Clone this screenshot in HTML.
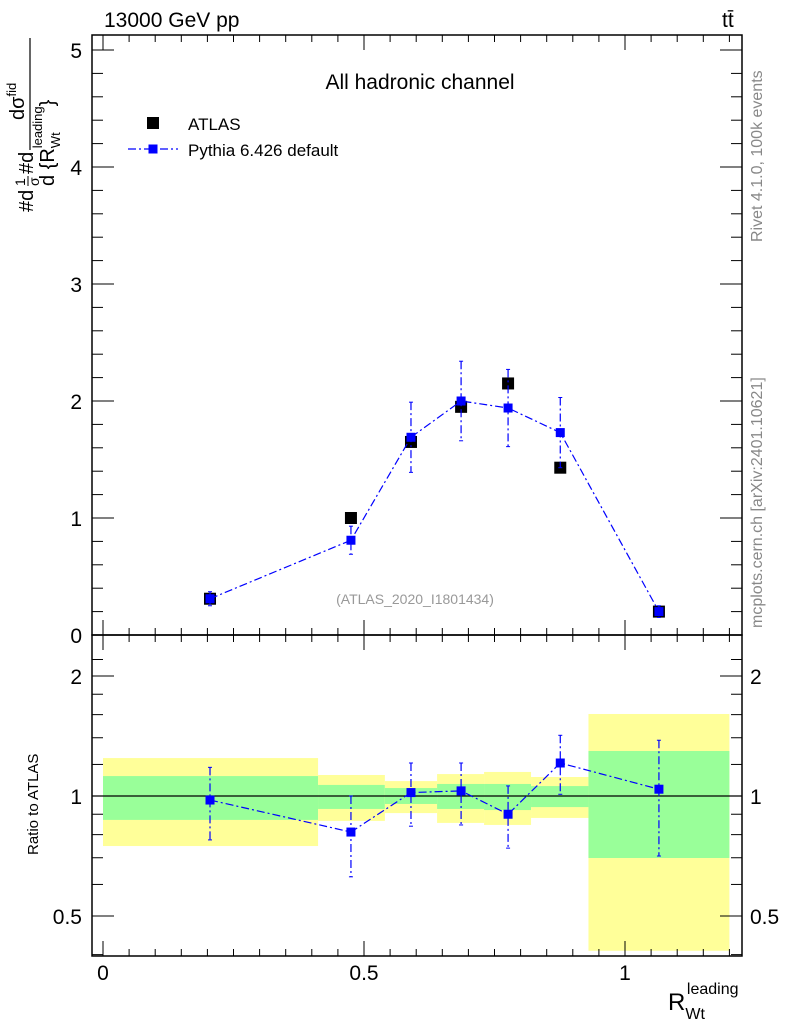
<!DOCTYPE html>
<html><head><meta charset="utf-8"><style>
html,body{margin:0;padding:0;background:#fff;}
svg{display:block;font-family:"Liberation Sans",sans-serif;}
</style></head><body>
<svg id="c" width="786" height="1024" viewBox="0 0 786 1024"></svg>
<script>
const xs=[0.205,0.475,0.59,0.686,0.776,0.876,1.065];
const atlasVals=[0.31,1.0,1.65,1.95,2.15,1.43,0.2];
const pythiaVals=[0.31,0.81,1.69,2.0,1.94,1.73,0.2];
const pythiaErr=[0.06,0.12,0.3,0.34,0.33,0.3,0.05];
const ratioVals=[0.977,0.812,1.02,1.03,0.9,1.21,1.04];
const ratioUp=[1.18,1.0,1.21,1.21,1.06,1.42,1.38];
const ratioDn=[0.776,0.627,0.84,0.846,0.74,1.01,0.707];
const binEdges=[0,0.412,0.54,0.64,0.73,0.82,0.93,1.2];
const yelHi=[1.245,1.129,1.09,1.135,1.149,1.116,1.606];
const yelLo=[0.749,0.866,0.906,0.856,0.846,0.881,0.409];
const grnHi=[1.122,1.066,1.047,1.072,1.072,1.059,1.297];
const grnLo=[0.871,0.928,0.955,0.928,0.922,0.938,0.699];
const mainTicks=[0,1,2,3,4,5];
const ratioTicks=[0.5,1,2];
const xTicks=[0,0.5,1];

const L=92,R=742,T=35,M=635,B=956;
const X=v=>103+522*v;
const Y=v=>635-117*v;
const YR=r=>796-120*Math.log2(r);
const svg=document.getElementById('c');
const NS='http://www.w3.org/2000/svg';
function mk(t,a,p){const e=document.createElementNS(NS,t);for(const k in a)e.setAttribute(k,a[k]);(p||svg).appendChild(e);return e;}

for(let i=0;i<binEdges.length-1;i++){
 const x0=X(binEdges[i]),x1=X(binEdges[i+1]);
 let e=mk('rect',{x:x0,y:YR(yelHi[i]),width:x1-x0,height:YR(yelLo[i])-YR(yelHi[i]),fill:'#ffff99'});
 
 
 e=mk('rect',{x:x0,y:YR(grnHi[i]),width:x1-x0,height:YR(grnLo[i])-YR(grnHi[i]),fill:'#99ff99'});
 
 
}
mk('line',{x1:L,x2:R,y1:YR(1),y2:YR(1),stroke:'#000','stroke-width':1.3});

mk('rect',{x:L,y:T,width:R-L,height:M-T,fill:'none',stroke:'#000','stroke-width':1.5});
mk('rect',{x:L,y:M,width:R-L,height:B-M,fill:'none',stroke:'#000','stroke-width':1.5});

for(let v=0;v<=1.2001;v+=0.05){
 const big=Math.abs(v*2-Math.round(v*2))<1e-6;const len=big?15:7;const x=X(v);
 if(x<L||x>R)continue;
 for(const [y,d] of [[M,-1],[T,1],[B,-1],[M,1]]) mk('line',{x1:x,x2:x,y1:y,y2:y+d*len,stroke:'#000','stroke-width':1});
}
xTicks.forEach(v=>{const t=mk('text',{x:X(v),y:980,'font-size':21,'text-anchor':'middle'});t.textContent=v;
 });
for(let v=0;v<=5.3;v+=0.2){const big=Math.abs(v-Math.round(v))<1e-6;const len=big?22:11;const y=Y(v);if(y<T)continue;
 mk('line',{x1:L,x2:L+len,y1:y,y2:y,stroke:'#000'});mk('line',{x1:R,x2:R-len,y1:y,y2:y,stroke:'#000'});}
mainTicks.forEach(v=>{const t=mk('text',{x:82,y:Y(v)+8,'font-size':21,'text-anchor':'end'});t.textContent=v;
 });
for(const r of [0.4,0.5,0.6,0.7,0.8,0.9,1,1.2,1.4,1.6,1.8,2,2.2]){const y=YR(r);if(y<M||y>B)continue;
 const big=[0.5,1,2].includes(r);const len=big?22:11;
 mk('line',{x1:L,x2:L+len,y1:y,y2:y,stroke:'#000'});mk('line',{x1:R,x2:R-len,y1:y,y2:y,stroke:'#000'});}
ratioTicks.forEach(v=>{let t=mk('text',{x:82,y:YR(v)+8,'font-size':21,'text-anchor':'end'});t.textContent=v;
 
 t=mk('text',{x:750,y:YR(v)+8,'font-size':21});t.textContent=v;
 });

atlasVals.forEach((v,i)=>{const e=mk('rect',{x:X(xs[i])-6,y:Y(v)-6,width:12,height:12,fill:'#000'});
 });
mk('polyline',{points:xs.map((x,i)=>X(x)+','+Y(pythiaVals[i])).join(' '),fill:'none',stroke:'#00f','stroke-width':1.2,'stroke-dasharray':'8,3,2,3'});
pythiaVals.forEach((v,i)=>{const x=X(xs[i]);
 mk('line',{x1:x,x2:x,y1:Y(v+pythiaErr[i]),y2:Y(v-pythiaErr[i]),stroke:'#00f','stroke-width':1.2,'stroke-dasharray':'8,3,2,3'});
 mk('line',{x1:x-2,x2:x+2,y1:Y(v+pythiaErr[i]),y2:Y(v+pythiaErr[i]),stroke:'#00f'});
 mk('line',{x1:x-2,x2:x+2,y1:Y(v-pythiaErr[i]),y2:Y(v-pythiaErr[i]),stroke:'#00f'});
 const e=mk('rect',{x:x-4.5,y:Y(v)-4.5,width:9,height:9,fill:'#00f'});
 });
mk('polyline',{points:xs.map((x,i)=>X(x)+','+YR(ratioVals[i])).join(' '),fill:'none',stroke:'#00f','stroke-width':1.2,'stroke-dasharray':'8,3,2,3'});
ratioVals.forEach((v,i)=>{const x=X(xs[i]);
 mk('line',{x1:x,x2:x,y1:YR(ratioUp[i]),y2:YR(ratioDn[i]),stroke:'#00f','stroke-width':1.2,'stroke-dasharray':'8,3,2,3'});
 mk('line',{x1:x-2,x2:x+2,y1:YR(ratioUp[i]),y2:YR(ratioUp[i]),stroke:'#00f'});
 mk('line',{x1:x-2,x2:x+2,y1:YR(ratioDn[i]),y2:YR(ratioDn[i]),stroke:'#00f'});
 const e=mk('rect',{x:x-4.5,y:YR(v)-4.5,width:9,height:9,fill:'#00f'});
 });
</script>
<svg width="786" height="1024" style="position:absolute;left:0;top:0">
<text x="104" y="27" font-size="21" font-family="Liberation Sans,sans-serif">13000 GeV pp</text>
<text x="722" y="27" font-size="21" font-family="Liberation Sans,sans-serif">tt̄</text>
<text x="420" y="89" font-size="21" text-anchor="middle" font-family="Liberation Sans,sans-serif">All hadronic channel</text>
<rect x="147" y="117" width="12" height="12" fill="#000"/>
<text x="188" y="130" font-size="17" font-family="Liberation Sans,sans-serif">ATLAS</text>
<line x1="128" x2="178" y1="149" y2="149" stroke="#00f" stroke-dasharray="8,3,2,3" stroke-width="1.2"/>
<rect x="148.5" y="144.5" width="9" height="9" fill="#00f"/>
<text x="188" y="156" font-size="17" font-family="Liberation Sans,sans-serif">Pythia 6.426 default</text>
<text x="415" y="604" font-size="14" fill="#999" text-anchor="middle" font-family="Liberation Sans,sans-serif">(ATLAS_2020_I1801434)</text>
<text transform="translate(762,242) rotate(-90)" font-size="16" fill="#888" font-family="Liberation Sans,sans-serif">Rivet 4.1.0,  100k events</text>
<text transform="translate(762,628) rotate(-90)" font-size="16" fill="#888" font-family="Liberation Sans,sans-serif">mcplots.cern.ch [arXiv:2401.10621]</text>
<text transform="translate(38,855) rotate(-90)" font-size="15" font-family="Liberation Sans,sans-serif">Ratio to ATLAS</text>
<g>
<text transform="translate(33,212) rotate(-90)" font-size="20" font-family="Liberation Sans,sans-serif">#d</text>
<text transform="translate(25,186) rotate(-90)" font-size="14" font-family="Liberation Sans,sans-serif">1</text>
<line x1="28" x2="28" y1="186" y2="176" stroke="#000" stroke-width="1"/>
<text transform="translate(39,186) rotate(-90)" font-size="14" font-family="Liberation Sans,sans-serif">σ</text>
<text transform="translate(33,174) rotate(-90)" font-size="20" font-family="Liberation Sans,sans-serif">#d</text>
<line x1="30" x2="30" y1="150" y2="38" stroke="#000" stroke-width="1.2"/>
<text transform="translate(24,120) rotate(-90)" font-size="20" font-family="Liberation Sans,sans-serif">dσ<tspan font-size="13" dy="-8">fid</tspan></text>
<text transform="translate(54,186) rotate(-90)" font-size="20" font-family="Liberation Sans,sans-serif">d {R<tspan font-size="13" dy="6">Wt</tspan><tspan font-size="13" dx="-16" dy="-18">leading</tspan><tspan dy="12">}</tspan></text>
</g>
<text x="668" y="1010" font-size="24" font-family="Liberation Sans,sans-serif">R<tspan font-size="16" dy="9">Wt</tspan><tspan font-size="16" dx="-18" dy="-25">leading</tspan></text>
</svg>
</body></html>
